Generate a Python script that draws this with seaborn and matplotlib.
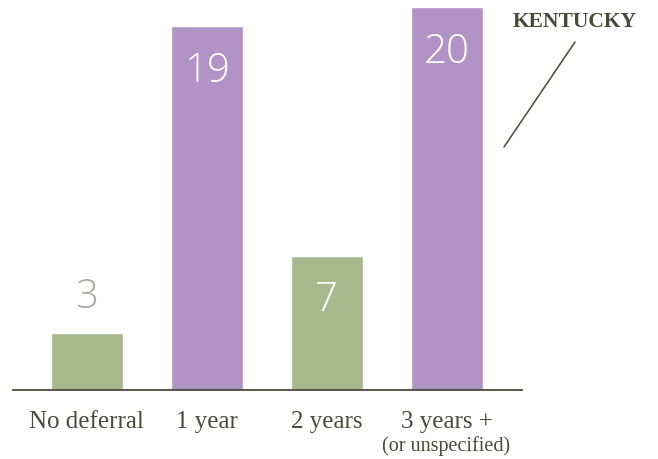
import matplotlib
matplotlib.use('Agg')
import matplotlib.pyplot as plt
import seaborn as sns

categories = ['No deferral', '1 year', '2 years', '3 years +']
values = [3, 19, 7, 20]
bar_colors = ['#a6b98c', '#b293c6', '#a6b98c', '#b293c6']
sub_label = '(or unspecified)'
state = 'KENTUCKY'

text_col = '#4a4a3a'

sns.set_style('white')
fig = plt.figure(figsize=(6.58, 4.6), dpi=100)
ax = fig.add_axes([13/658, 69/460, 509/658, 391/460])

sns.barplot(x=categories, y=values, hue=categories, palette=bar_colors,
            width=0.6, saturation=1, legend=False, ax=ax)

ax.set_xlim(-0.6125, 3.629)
ax.set_ylim(0, 20.42)
for s in ['top', 'right', 'left']:
    ax.spines[s].set_visible(False)
ax.spines['bottom'].set_color(text_col)
ax.spines['bottom'].set_linewidth(1.3)
ax.set_yticks([])
ax.set_xticks([])
ax.set_xlabel('')
ax.set_ylabel('')

xt = ax.get_xaxis_transform()
for i, c in enumerate(categories):
    ax.text(i, -0.0946, c, transform=xt, ha='center', va='baseline',
            fontsize=18, family='Liberation Serif', color=text_col)
ax.text(3, -0.153, sub_label, transform=xt, ha='center', va='baseline',
        fontsize=14.5, family='Liberation Serif', color=text_col)

# value labels
for i, v in enumerate(values):
    if v < 5:
        ax.annotate(str(v), (i, v), xytext=(0, 36), textcoords='offset pixels',
                    ha='center', va='center', fontsize=29, family='Open Sans',
                    fontweight='light', color='#aaa99f')
    else:
        ax.annotate(str(v), (i, v), xytext=(0, -44), textcoords='offset pixels',
                    ha='center', va='center', fontsize=29, family='Open Sans',
                    fontweight='light', color='white')

fig.text(575/658, 1 - 22/460, state, ha='center', va='center', fontsize=15.5,
         family='Liberation Serif', fontweight='bold', color=text_col)
fig.add_artist(plt.Line2D([575/658, 504/658], [1 - 43/460, 1 - 148/460],
                          color=text_col, lw=1.1))

fig.savefig('out.png', dpi=100)
